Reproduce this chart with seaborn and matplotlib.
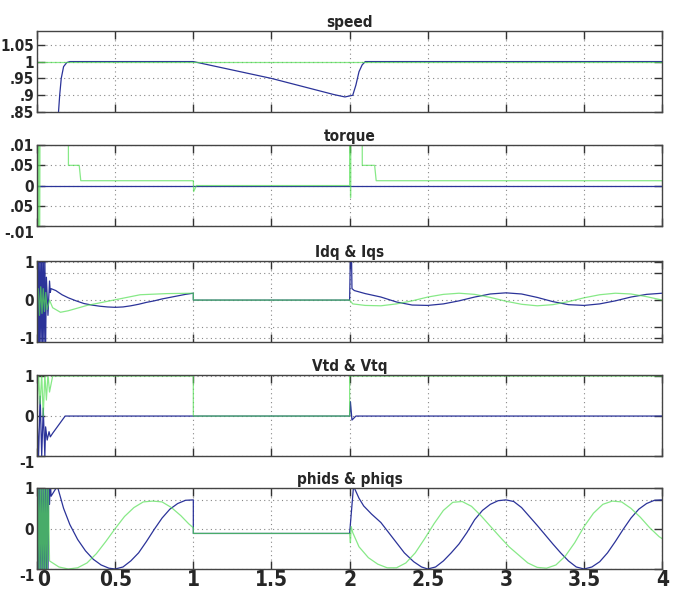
import pandas as pd
import seaborn as sns
import matplotlib
matplotlib.use("Agg")
import matplotlib.pyplot as plt

# ---- data ----
t_speed_ref = [0.0, 4.0]
speed_ref = [1.0, 1.0]
t_speed = [0.13, 0.145, 0.155, 0.17, 0.19, 0.21, 1.0, 1.5, 1.9, 1.97, 2.02, 2.04, 2.06, 2.08, 2.1, 4.0]
speed = [0.80, 0.90, 0.95, 0.985, 0.997, 1.0, 1.0, 0.95, 0.902, 0.895, 0.90, 0.93, 0.97, 0.99, 1.0, 1.0]

t_torque = [0.0, 4.0]
torque = [0.0, 0.0]
t_torque_ref = [0.0, 0.004, 0.008, 0.012, 0.016, 0.02, 0.025, 0.2, 0.201, 0.27, 0.28, 1.0, 1.002, 1.02,
                2.0, 2.003, 2.006, 2.009, 2.012, 2.08, 2.081, 2.16, 2.17, 4.0]
torque_ref = [0.0, 0.3, -0.3, 0.3, -0.3, 0.3, 0.3, 0.3, 0.05, 0.05, 0.012, 0.012, -0.015, 0.0,
              0.0, 0.3, -0.03, 0.3, 0.3, 0.3, 0.05, 0.05, 0.012, 0.012]

t_ids = [0.0, 0.005, 0.01, 0.015, 0.02, 0.025, 0.03, 0.035, 0.04, 0.045, 0.05, 0.055, 0.06, 0.07, 0.08,
         0.085, 0.09, 0.12, 0.16, 0.2, 0.25, 0.3, 0.35, 0.4, 0.45, 0.5, 0.55, 0.6, 0.65, 0.7, 0.75, 0.8,
         0.85, 0.9, 0.95, 1.0, 1.0, 2.0, 2.005, 2.012,
         2.015, 2.03, 2.1, 2.2, 2.3, 2.4, 2.5, 2.6, 2.7, 2.8, 2.9, 3.0, 3.1, 3.2, 3.3, 3.4, 3.5, 3.6,
         3.7, 3.8, 3.9, 4.0]
ids = [0.0, -1.2, 1.2, -1.2, 1.2, -1.2, 1.2, -1.2, 1.2, -1.2, 1.2, -1.2, 0.6, -0.4, 0.5,
       0.2, 0.3, 0.25, 0.14, 0.06, -0.02, -0.09, -0.13, -0.16, -0.18, -0.19, -0.18, -0.15, -0.11, -0.06,
       -0.02, 0.03, 0.07, 0.11, 0.15, 0.18, 0.0, 0.0, 1.2, 1.2,
       0.3, 0.25, 0.17, 0.08, -0.05, -0.13, -0.14, -0.10, -0.02, 0.08, 0.16, 0.19, 0.16, 0.07, -0.04, -0.12,
       -0.14, -0.10, -0.02, 0.08, 0.15, 0.18]
t_iqs = [0.0, 0.008, 0.016, 0.024, 0.032, 0.04, 0.048, 0.056, 0.064, 0.08, 0.1, 0.15, 0.2, 0.32, 0.49,
         0.66, 0.83, 1.0, 1.0, 2.0, 2.02, 2.1, 2.2, 2.3, 2.4, 2.5, 2.6, 2.7, 2.8, 2.9, 3.0, 3.1, 3.2, 3.3,
         3.4, 3.5, 3.6, 3.7, 3.8, 3.9, 4.0]
iqs = [0.0, 0.3, -0.4, 0.35, -0.35, 0.3, -0.3, 0.2, -0.25, 0.0, -0.2, -0.32, -0.28, -0.14, 0.0,
       0.14, 0.17, 0.18, 0.0, 0.0, -0.1, -0.14, -0.15, -0.1, -0.02, 0.08, 0.15, 0.18, 0.15, 0.07, -0.03,
       -0.11, -0.15, -0.12, -0.04, 0.06, 0.14, 0.18, 0.16, 0.09, 0.0]

t_vtd = [0.0, 0.01, 0.02, 0.03, 0.04, 0.05, 0.055, 0.065, 0.077, 0.085, 0.1, 0.18, 2.0, 2.005, 2.015,
         2.04, 4.0]
vtd = [0.0, -1.0, 0.5, -1.0, 0.2, -1.0, -0.27, -0.6, -0.39, -0.52, -0.43, 0.0, 0.0, 0.36, -0.1,
       0.0, 0.0]
t_vtq = [0.0, 0.01, 0.02, 0.03, 0.04, 0.05, 0.06, 0.07, 0.08, 0.1, 1.0, 1.0, 2.0, 2.0, 4.0]
vtq = [0.0, 1.05, 0.3, 1.05, 0.0, 1.05, 0.4, 1.05, 0.6, 1.0, 1.0, 0.0, 0.0, 1.0, 1.0]

t_phids = [0.0, 0.005, 0.01, 0.015, 0.02, 0.025, 0.03, 0.035, 0.04, 0.045, 0.05, 0.055, 0.06, 0.065,
           0.07, 0.075, 0.08, 0.085, 0.09, 0.13, 0.17, 0.21, 0.26, 0.31, 0.36, 0.41, 0.46, 0.5, 0.55,
           0.6, 0.65, 0.7, 0.75, 0.8, 0.85, 0.9, 0.95, 1.0, 1.0, 2.0,
           2.025, 2.06, 2.09, 2.14, 2.2, 2.25, 2.3, 2.35, 2.41, 2.46, 2.5, 2.55, 2.6, 2.65, 2.7, 2.75,
           2.8, 2.85, 2.9, 2.95, 3.0, 3.05, 3.1, 3.15, 3.2, 3.25, 3.3, 3.35, 3.4, 3.45, 3.5, 3.55,
           3.6, 3.65, 3.7, 3.75, 3.8, 3.85, 3.9, 3.95, 4.0]
phids = [0.0, 1.2, -1.2, 1.2, -1.2, 1.2, -1.2, 1.2, -1.2, 1.2, -1.2, 1.2, -1.2, 1.2,
         -1.2, 1.2, 0.6, 1.2, 0.8, 1.05, 0.5, 0.1, -0.27, -0.55, -0.76, -0.9, -0.98, -1.0, -0.95,
         -0.8, -0.6, -0.32, -0.02, 0.26, 0.48, 0.62, 0.7, 0.71, -0.12, -0.12,
         1.05, 0.75, 0.56, 0.36, 0.15, -0.1, -0.35, -0.6, -0.82, -0.95, -1.0, -0.95, -0.8, -0.6, -0.38, -0.1,
         0.22, 0.45, 0.6, 0.69, 0.71, 0.67, 0.52, 0.3, 0.08, -0.15, -0.38, -0.6, -0.8, -0.95, -1.0, -0.95,
         -0.82, -0.6, -0.32, -0.02, 0.26, 0.48, 0.62, 0.7, 0.71]
t_phiqs = [0.0, 0.006, 0.012, 0.018, 0.024, 0.03, 0.036, 0.042, 0.048, 0.054, 0.06, 0.066, 0.072, 0.08,
           0.14, 0.2, 0.26, 0.32, 0.38, 0.44, 0.5, 0.56, 0.62, 0.68, 0.74, 0.8, 0.86, 0.92, 0.97, 1.0,
           1.0, 2.0, 2.005, 2.01, 2.02, 2.06, 2.12, 2.18, 2.24, 2.3, 2.36, 2.42, 2.48, 2.54, 2.6, 2.66,
           2.72, 2.78, 2.84, 2.9, 2.96, 3.02, 3.08, 3.14, 3.2, 3.26, 3.32, 3.38, 3.44, 3.5, 3.56, 3.62,
           3.68, 3.74, 3.8, 3.86, 3.92, 3.98, 4.0]
phiqs = [0.0, -1.1, 1.1, -1.1, 1.1, -1.1, 1.1, -1.1, 1.1, -1.1, 1.1, -1.1, 1.1, -0.8,
         -0.95, -1.0, -0.97, -0.85, -0.62, -0.32, 0.0, 0.3, 0.52, 0.66, 0.68, 0.66, 0.52, 0.32, 0.12, 0.02,
         -0.12, -0.12, -0.35, 0.05, -0.1, -0.45, -0.72, -0.88, -0.97, -0.97, -0.85, -0.6, -0.25, 0.12, 0.45, 0.65,
         0.67, 0.55, 0.32, 0.06, -0.2, -0.45, -0.65, -0.85, -0.96, -0.98, -0.9, -0.68, -0.35, 0.05, 0.38, 0.6,
         0.68, 0.66, 0.5, 0.28, 0.02, -0.2, -0.25]

titles = ["speed", "torque", "Idq & Iqs", "Vtd & Vtq", "phids & phiqs"]
x_ticks = [0, 0.5, 1, 1.5, 2, 2.5, 3, 3.5, 4]
x_tick_labels = ["0", "0.5", "1", "1.5", "2", "2.5", "3", "3.5", "4"]

panels = [
    dict(blue=(t_speed, speed), green=(t_speed_ref, speed_ref), ylim=(0.85, 1.09),
         yticks=[0.85, 0.9, 0.95, 1.0, 1.05], ylabels=[".85", ".9", ".95", "1", "1.05"]),
    dict(blue=(t_torque, torque), green=(t_torque_ref, torque_ref), ylim=(-0.1, 0.1),
         yticks=[-0.1, -0.05, 0, 0.05, 0.1], ylabels=["-.01", ".05", "0", ".05", ".01"]),
    dict(blue=(t_ids, ids), green=(t_iqs, iqs), ylim=(-1.1, 1.02),
         yticks=[-1, -0.7, 0, 0.7, 1], ylabels=["-1", "", "0", "", "1"]),
    dict(blue=(t_vtd, vtd), green=(t_vtq, vtq), ylim=(-1.0, 1.02),
         yticks=[-1, 0, 1], ylabels=["-1", "0", "1"]),
    dict(blue=(t_phids, phids), green=(t_phiqs, phiqs), ylim=(-1.0, 1.0),
         yticks=[-1, 0, 0.7, 1], ylabels=["-1", "0", "", "1"]),
]

sns.set_theme(style="white")
plt.rcParams["font.family"] = ["Liberation Sans Narrow", "DejaVu Sans Condensed", "DejaVu Sans"]
plt.rcParams["font.stretch"] = "condensed"
plt.rcParams["font.weight"] = "bold"

fig = plt.figure(figsize=(6.73, 5.9), dpi=100)
bottoms = [0.810, 0.617, 0.4203, 0.227, 0.0356]
blue_c = "#2b3399"
green_c = "#55e055"

for i, p in enumerate(panels):
    ax = fig.add_axes([0.055, bottoms[i], 0.929, 0.137])
    df = pd.concat([
        pd.DataFrame({"t": p["blue"][0], "v": p["blue"][1], "sig": "a"}),
        pd.DataFrame({"t": p["green"][0], "v": p["green"][1], "sig": "b"}),
    ])
    sns.lineplot(data=df, x="t", y="v", hue="sig", palette={"a": blue_c, "b": green_c},
                 estimator=None, sort=False, legend=False, ax=ax, linewidth=0.9)
    ax.lines[1].set_alpha(0.7)
    ax.set_xlim(0, 4)
    ax.set_ylim(*p["ylim"])
    ax.set_xticks(x_ticks)
    ax.set_yticks(p["yticks"])
    ax.set_yticklabels(p["ylabels"], fontsize=11)
    if i in (1, 3, 4):
        # bottom label sits just below the frame, as on the scope
        ax.get_yticklabels()[0].set_va("top")
    if i == 4:
        ax.set_xticklabels(x_tick_labels, fontsize=15)
        ax.get_xticklabels()[0].set_ha("left")
    else:
        ax.set_xticklabels([])
    ax.set_xlabel("")
    ax.set_ylabel("")
    ax.set_title(titles[i], fontsize=11, fontweight="bold", pad=3)
    ax.grid(True, linestyle=(0, (1, 3)), color="#888888", linewidth=0.8)
    ax.tick_params(direction="in", top=True, right=True, length=6, width=1,
                   color="#333333", left=True, bottom=True)
    ax.tick_params(axis="x", pad=1)
    ax.tick_params(axis="y", pad=2)
    for s in ax.spines.values():
        s.set_color("#444444")
        s.set_linewidth(1.0)

fig.savefig("out.png", dpi=100, facecolor="white")
